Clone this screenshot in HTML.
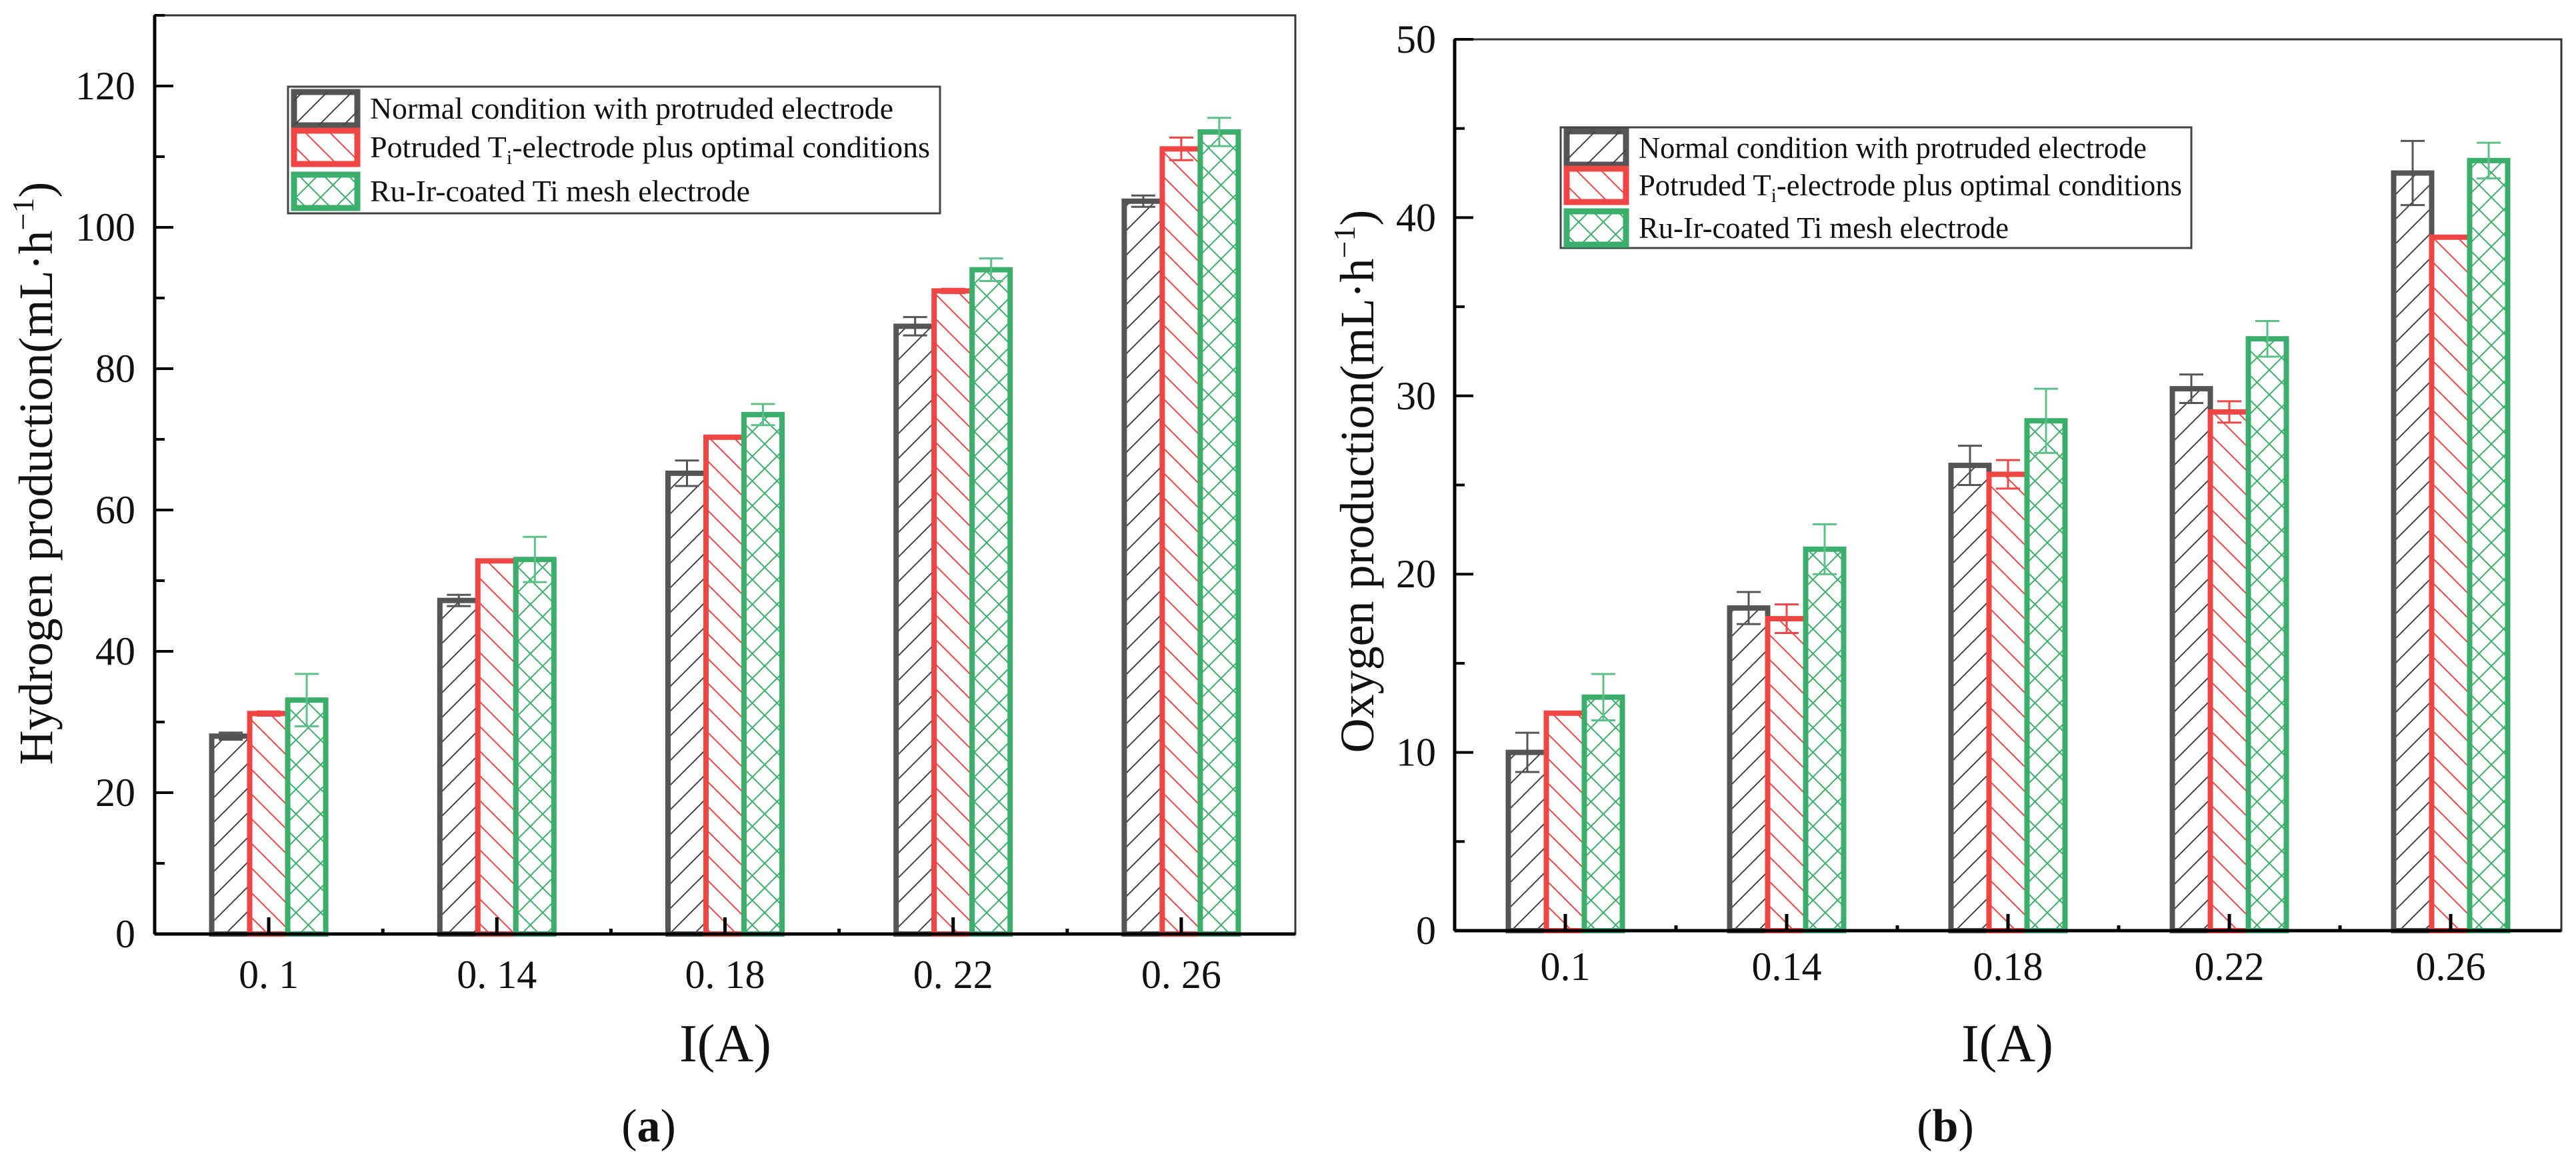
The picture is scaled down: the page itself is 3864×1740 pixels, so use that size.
<!DOCTYPE html>
<html><head><meta charset="utf-8">
<style>
html,body{margin:0;padding:0;background:#fff;}
svg{display:block;font-family:"Liberation Serif",serif;}
text{font-family:"Liberation Serif",serif;}
</style></head>
<body>
<svg id="fig" width="3864" height="1740" viewBox="0 0 3864 1740" xmlns="http://www.w3.org/2000/svg">
<defs>
<pattern id="hatchGray" patternUnits="userSpaceOnUse" width="37" height="37"><path d="M-5,42 L42,-5 M-5,5 L5,-5 M32,42 L42,32" stroke="#444" stroke-width="2"/></pattern>
<pattern id="hatchRed" patternUnits="userSpaceOnUse" width="37" height="37"><path d="M-5,-5 L42,42 M32,-5 L42,5 M-5,32 L5,42" stroke="#f04545" stroke-width="2"/></pattern>
<pattern id="hatchGreen" patternUnits="userSpaceOnUse" width="37" height="37"><path d="M-5,-5 L42,42 M-5,42 L42,-5 M32,-5 L42,5 M-5,32 L5,42 M-5,5 L5,-5 M32,42 L42,32" stroke="#3aae6a" stroke-width="2"/></pattern>
</defs>
<g id="panelA"></g>
<g id="panelB"></g>
</svg>
<script>
// ---- Panel (a): hydrogen ----
const categoriesA = ["0. 1","0. 14","0. 18","0. 22","0. 26"];
const normalA = [28.0, 47.2, 65.2, 86.0, 103.7];
const normalErrA = [0.5, 0.8, 1.8, 1.3, 0.8];
const ptiA = [31.2, 52.8, 70.3, 91.0, 111.1];
const ptiErrA = [0.3, 0.2, 0.2, 0.3, 1.6];
const ruirA = [33.1, 53.0, 73.5, 94.0, 113.5];
const ruirErrA = [3.7, 3.2, 1.5, 1.6, 2.0];
const yTicksA = [0, 20, 40, 60, 80, 100, 120];
// ---- Panel (b): oxygen ----
const categoriesB = ["0.1","0.14","0.18","0.22","0.26"];
const normalB = [10.0, 18.1, 26.1, 30.4, 42.5];
const normalErrB = [1.1, 0.9, 1.1, 0.8, 1.8];
const ptiB = [12.2, 17.5, 25.6, 29.1, 38.9];
const ptiErrB = [0.0, 0.8, 0.8, 0.6, 0.0];
const ruirB = [13.1, 21.4, 28.6, 33.2, 43.2];
const ruirErrB = [1.3, 1.4, 1.8, 1.0, 1.0];
const yTicksB = [0, 10, 20, 30, 40, 50];

const NS = "http://www.w3.org/2000/svg";
function mk(parent, tag, attrs, text){
  const e = document.createElementNS(NS, tag);
  for (const k in attrs) e.setAttribute(k, attrs[k]);
  if (tag === "text") e.setAttribute("font-family", "Liberation Serif, serif");
  if (text !== undefined) e.textContent = text;
  parent.appendChild(e);
  return e;
}
const colors = ["#555555", "#f04545", "#3aae6a"];
const errColors = ["#555555", "#f04545", "#5cc08a"];
const fills = ["url(#hatchGray)", "url(#hatchRed)", "url(#hatchGreen)"];
const seriesNames = ["normal", "potruded", "ru-ir"];

function panel(g, cfg){
  const {L, R, T, B, ymax, cats, series, errs, ticks, minorStep} = cfg;
  const ys = v => B - (v / ymax) * (B - T);
  const band = (R - L) / cats.length;
  const xc = i => L + band * (i + 0.5);
  const bw = 57;
  const frame = mk(g, "rect", {x:L, y:T, width:R-L, height:B-T, fill:"none", stroke:"#333", "stroke-width":3});
  
  
  series.forEach((vals, s) => {
    vals.forEach((v, i) => {
      const x = xc(i) + (s - 1) * bw - bw/2;
      const r = mk(g, "rect", {x:x, y:ys(v), width:bw, height:B-ys(v), fill:"#fff"});
      
      
      mk(g, "rect", {x:x, y:ys(v), width:bw, height:B-ys(v), fill:fills[s], stroke:colors[s], "stroke-width":8});
      const e = errs[s][i];
      if (e > 0) {
        const cx = x + bw/2;
        const eb = mk(g, "path", {d:`M${cx-18},${ys(v+e)} H${cx+18} M${cx},${ys(v+e)} V${ys(v-e)} M${cx-18},${ys(v-e)} H${cx+18}`, stroke:errColors[s], "stroke-width":3, fill:"none"});
        
        
      }
    });
  });
  mk(g, "line", {x1:L, y1:B, x2:R, y2:B, stroke:"#000", "stroke-width":5});
  mk(g, "line", {x1:L, y1:T, x2:L, y2:B, stroke:"#000", "stroke-width":5});
  for (let v = 0; v <= ymax + 1e-9; v += minorStep) {
    const major = ticks.includes(v);
    mk(g, "line", {x1:L, y1:ys(v), x2:L + (major ? 28 : 15), y2:ys(v), stroke:"#000", "stroke-width":4});
  }
  ticks.forEach(v => {
    const t = mk(g, "text", {x:cfg.yLabelX, y:ys(v) + 20, "text-anchor":"end", "font-size":60, fill:"#111"}, String(v));
    
    
  });
  cats.forEach((c, i) => {
    mk(g, "line", {x1:xc(i), y1:B, x2:xc(i), y2:B-25, stroke:"#000", "stroke-width":5});
    if (i > 0) mk(g, "line", {x1:L + band*i, y1:B, x2:L + band*i, y2:B-8, stroke:"#000", "stroke-width":5});
    const t = mk(g, "text", {x:xc(i), y:cfg.xLabelY, "text-anchor":"middle", "font-size":60, fill:"#111"}, c);
    
    
  });
}

function legend(g, x, y, w, h, rowYs, textX, lens){
  const box = mk(g, "rect", {x:x, y:y, width:w, height:h, fill:"#fff", stroke:"#444", "stroke-width":3});
  
  
  const labels = [
    ["Normal condition with protruded electrode"],
    ["Potruded T", "i", "-electrode plus optimal conditions"],
    ["Ru-Ir-coated Ti mesh electrode"]
  ];
  rowYs.forEach((ry, s) => {
    mk(g, "rect", {x:x+9, y:ry-25, width:textX-x-28, height:50, fill:"#fff", stroke:colors[s], "stroke-width":9});
    const sw = mk(g, "rect", {x:x+9, y:ry-25, width:textX-x-28, height:50, fill:fills[s]});
    
    
    const t = mk(g, "text", {x:textX, y:ry+15, "font-size":45, fill:"#111", textLength:lens[s], lengthAdjust:"spacingAndGlyphs"});
    
    
    const parts = labels[s];
    mk(t, "tspan", {}, parts[0]);
    if (parts.length > 1) {
      mk(t, "tspan", {"font-size":30, dy:10}, parts[1]);
      mk(t, "tspan", {dy:-10}, parts[2]);
    }
  });
}

const gA = document.getElementById("panelA");
panel(gA, {L:232, R:1943, T:23, B:1401, ymax:130, cats:categoriesA,
  series:[normalA, ptiA, ruirA], errs:[normalErrA, ptiErrA, ruirErrA],
  ticks:yTicksA, minorStep:10, yLabelX:203, xLabelY:1482});
legend(gA, 432, 130, 978, 190, [163, 221, 287], 555, [785, 840, 570]);
let t;
t = mk(gA, "text", {transform:"translate(78,710) rotate(-90)", "text-anchor":"middle", "font-size":72, fill:"#111"});


mk(t, "tspan", {}, "Hydrogen production(mL·h");
mk(t, "tspan", {"font-size":46, dy:-28}, "−1");
mk(t, "tspan", {dy:28}, ")");
t = mk(gA, "text", {x:1088, y:1592, "text-anchor":"middle", "font-size":80, fill:"#111"}, "I(A)");


t = mk(gA, "text", {x:973, y:1712, "text-anchor":"middle", "font-size":70, fill:"#111"});


mk(t, "tspan", {}, "(");
mk(t, "tspan", {"font-weight":"bold"}, "a");
mk(t, "tspan", {}, ")");

const gB = document.getElementById("panelB");
panel(gB, {L:2182, R:3842, T:59, B:1396, ymax:50, cats:categoriesB,
  series:[normalB, ptiB, ruirB], errs:[normalErrB, ptiErrB, ruirErrB],
  ticks:yTicksB, minorStep:5, yLabelX:2154, xLabelY:1470});
legend(gB, 2341, 191, 946, 181, [222, 278, 342], 2458, [762, 815, 555]);
t = mk(gB, "text", {transform:"translate(2060,722) rotate(-90)", "text-anchor":"middle", "font-size":72, fill:"#111"});


mk(t, "tspan", {}, "Oxygen production(mL·h");
mk(t, "tspan", {"font-size":46, dy:-28}, "−1");
mk(t, "tspan", {dy:28}, ")");
t = mk(gB, "text", {x:3011, y:1592, "text-anchor":"middle", "font-size":80, fill:"#111"}, "I(A)");


t = mk(gB, "text", {x:2918, y:1712, "text-anchor":"middle", "font-size":70, fill:"#111"});


mk(t, "tspan", {}, "(");
mk(t, "tspan", {"font-weight":"bold"}, "b");
mk(t, "tspan", {}, ")");
</script>
</body></html>
